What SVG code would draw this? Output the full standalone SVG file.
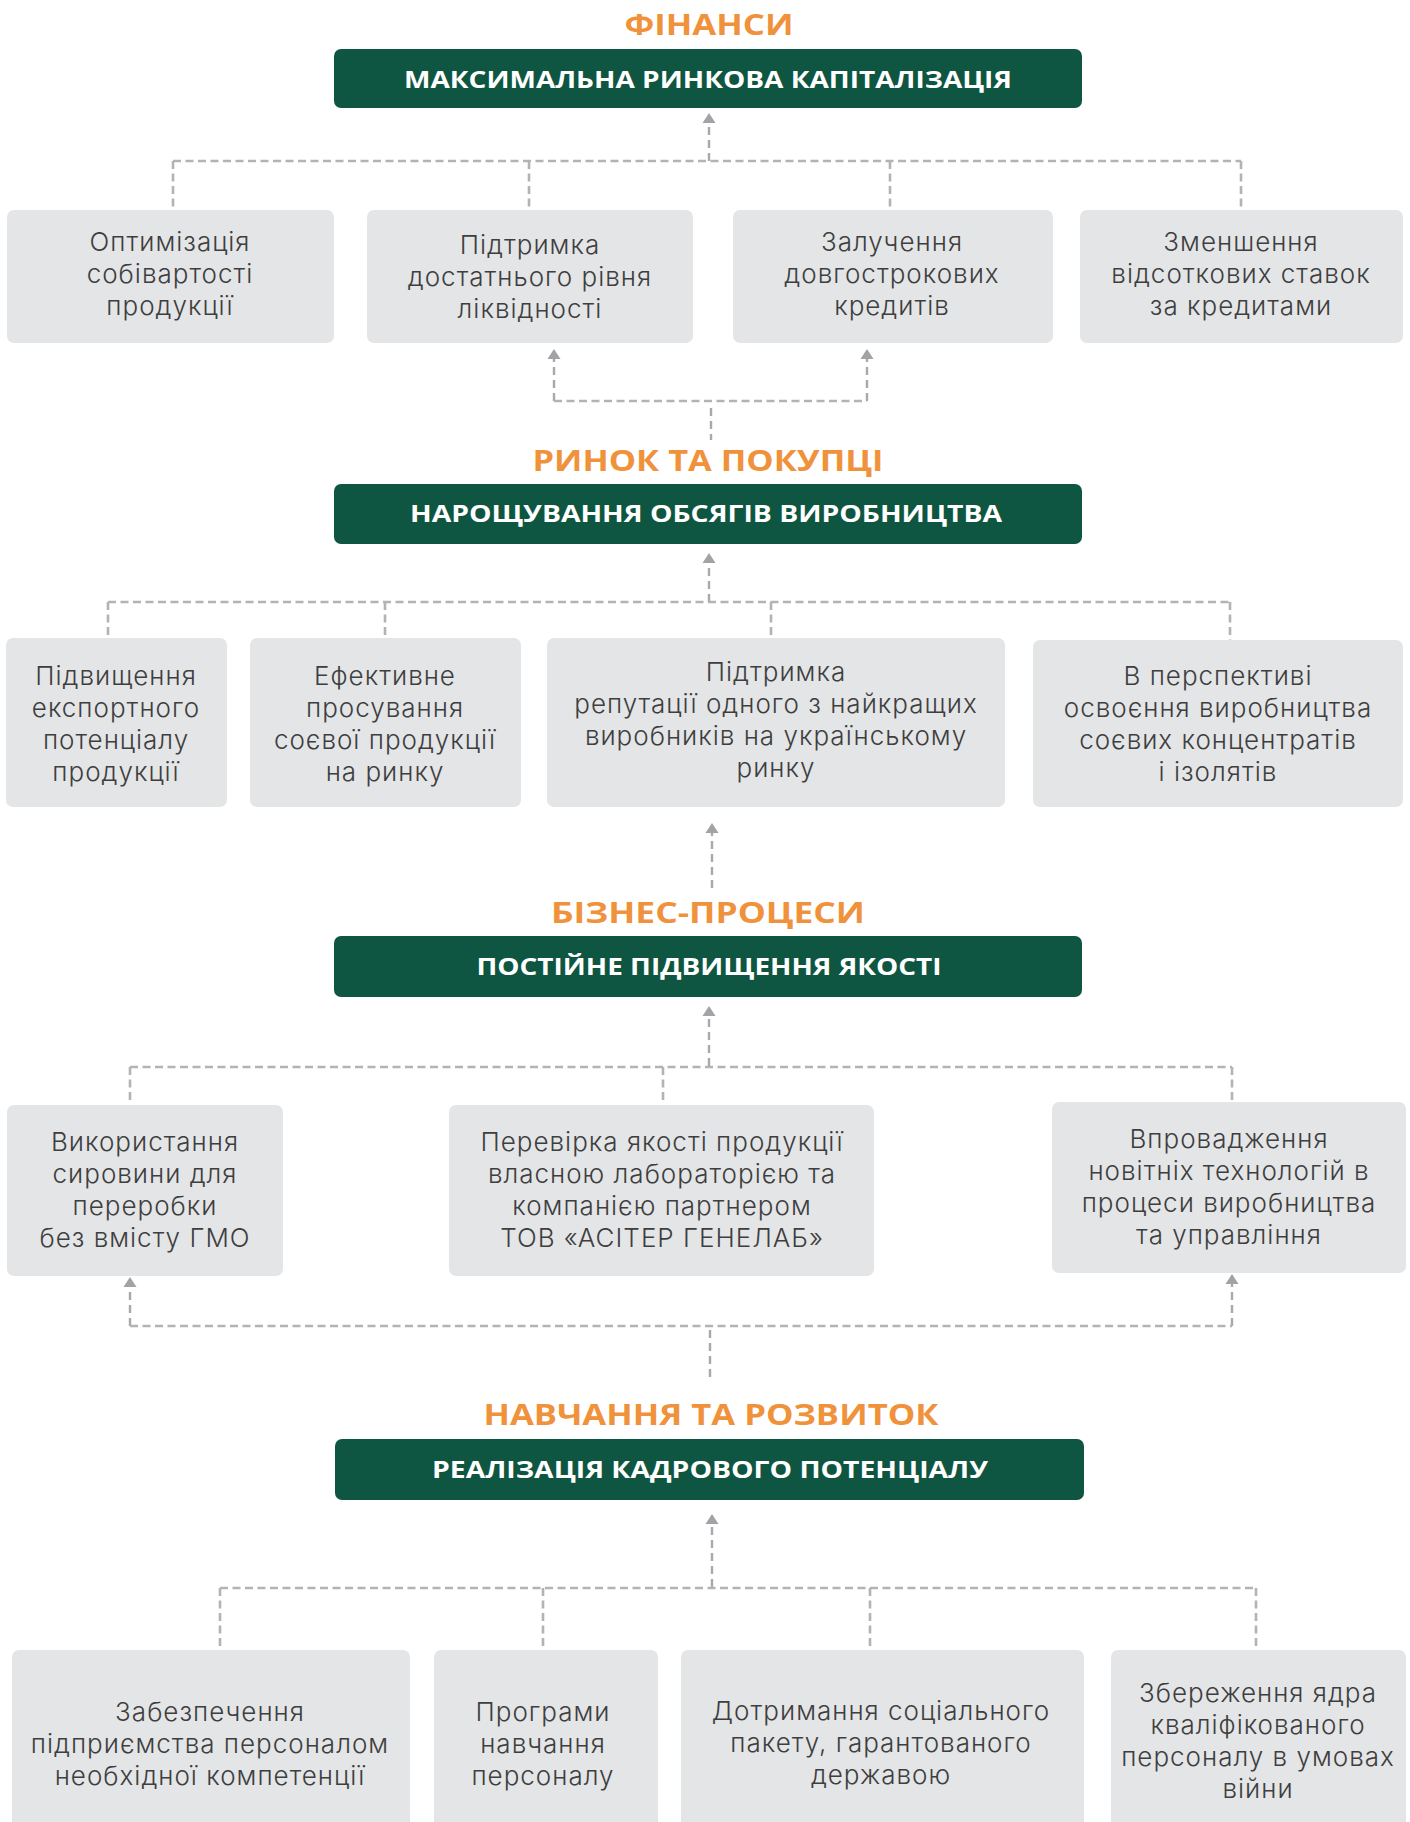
<svg xmlns="http://www.w3.org/2000/svg" width="1410" height="1822" viewBox="0 0 1410 1822">
<defs>
<style>
.box{fill:#e4e5e7}
.head{fill:#0e5641}
.t{font-family:Inter,"Open Sans","Liberation Sans",sans-serif;font-weight:300;font-size:26px;letter-spacing:1px;fill:#3e3e3e;text-anchor:middle}
.h{font-family:"Open Sans","Liberation Sans",sans-serif;font-weight:700;font-size:23px;fill:#ffffff;text-anchor:middle}
.o{font-family:"Open Sans","Liberation Sans",sans-serif;font-weight:700;font-size:29px;fill:#f0923b;text-anchor:middle}
.c{fill:none;stroke:#b3b3b6;stroke-width:2.6;stroke-dasharray:8 4.5}
.v{fill:none;stroke:#a9a9ad;stroke-width:2.4;stroke-dasharray:8 5}
.a{fill:#a3a3a7}
</style>
</defs>
<rect width="1410" height="1822" fill="#ffffff"/>

<g id="connectors">
<path class="v" d="M709,161 V122"/>
<path class="c" d="M173,161 H1241 M173,161 V210 M529,161 V210 M890,161 V210 M1241,161 V210"/>
<path class="v" d="M554,401 V358 M867,401 V358"/>
<path class="c" d="M554,401 H867"/>
<path class="v" d="M711,408 V440"/>
<path class="v" d="M709,602 V562"/>
<path class="c" d="M108,602 H1230 M108,602 V638 M385,602 V638 M771,602 V638 M1230,602 V640"/>
<path class="v" d="M712,888 V832"/>
<path class="v" d="M709,1066 V1015"/>
<path class="c" d="M130,1067 H1232 M130,1067 V1104 M663,1067 V1104 M1232,1067 V1102"/>
<path class="v" d="M130,1326 V1286 M1232,1326 V1283"/>
<path class="c" d="M130,1326 H1232"/>
<path class="v" d="M710,1330 V1382"/>
<path class="v" d="M712,1587 V1523"/>
<path class="c" d="M220,1588 H1256 M220,1588 V1649 M543,1588 V1649 M870,1588 V1649 M1256,1588 V1649"/>
<path class="a" d="M702.5,123 L709,113 L715.5,123 Z"/>
<path class="a" d="M547.5,359 L554,349 L560.5,359 Z"/>
<path class="a" d="M860.5,359 L867,349 L873.5,359 Z"/>
<path class="a" d="M702.5,563 L709,553 L715.5,563 Z"/>
<path class="a" d="M705.5,833 L712,823 L718.5,833 Z"/>
<path class="a" d="M702.5,1016 L709,1006 L715.5,1016 Z"/>
<path class="a" d="M123.5,1287 L130,1277 L136.5,1287 Z"/>
<path class="a" d="M1225.5,1284 L1232,1274 L1238.5,1284 Z"/>
<path class="a" d="M705.5,1524 L712,1514 L718.5,1524 Z"/>
</g>

<g id="title-finance"><text class="o" x="709" y="35" textLength="169" lengthAdjust="spacingAndGlyphs">ФІНАНСИ</text></g>
<g id="head-1"><rect class="head" x="334" y="49" width="748" height="59" rx="7"/><text class="h" x="708" y="88" textLength="608" lengthAdjust="spacingAndGlyphs">МАКСИМАЛЬНА РИНКОВА КАПІТАЛІЗАЦІЯ</text></g>

<g id="n1-1"><rect class="box" x="7" y="210" width="327" height="133" rx="7"/><text class="t"><tspan x="170" y="251">Оптимізація</tspan><tspan x="170" y="283">собівартості</tspan><tspan x="170" y="315">продукції</tspan></text></g>
<g id="n1-2"><rect class="box" x="367" y="210" width="326" height="133" rx="7"/><text class="t"><tspan x="530" y="254">Підтримка</tspan><tspan x="530" y="286">достатнього рівня</tspan><tspan x="530" y="318">ліквідності</tspan></text></g>
<g id="n1-3"><rect class="box" x="733" y="210" width="320" height="133" rx="7"/><text class="t"><tspan x="892" y="251">Залучення</tspan><tspan x="892" y="283">довгострокових</tspan><tspan x="892" y="315">кредитів</tspan></text></g>
<g id="n1-4"><rect class="box" x="1080" y="210" width="323" height="133" rx="7"/><text class="t"><tspan x="1241" y="251">Зменшення</tspan><tspan x="1241" y="283">відсоткових ставок</tspan><tspan x="1241" y="315">за кредитами</tspan></text></g>

<g id="title-market"><text class="o" x="708" y="471" textLength="351" lengthAdjust="spacingAndGlyphs">РИНОК ТА ПОКУПЦІ</text></g>
<g id="head-2"><rect class="head" x="334" y="484" width="748" height="60" rx="7"/><text class="h" x="706" y="522" textLength="592" lengthAdjust="spacingAndGlyphs">НАРОЩУВАННЯ ОБСЯГІВ ВИРОБНИЦТВА</text></g>

<g id="n2-1"><rect class="box" x="6" y="638" width="221" height="169" rx="7"/><text class="t"><tspan x="116" y="685">Підвищення</tspan><tspan x="116" y="717">експортного</tspan><tspan x="116" y="749">потенціалу</tspan><tspan x="116" y="781">продукції</tspan></text></g>
<g id="n2-2"><rect class="box" x="250" y="638" width="271" height="169" rx="7"/><text class="t"><tspan x="385" y="685">Ефективне</tspan><tspan x="385" y="717">просування</tspan><tspan x="385" y="749">соєвої продукції</tspan><tspan x="385" y="781">на ринку</tspan></text></g>
<g id="n2-3"><rect class="box" x="547" y="638" width="458" height="169" rx="7"/><text class="t"><tspan x="776" y="681">Підтримка</tspan><tspan x="776" y="713">репутації одного з найкращих</tspan><tspan x="776" y="745">виробників на українському</tspan><tspan x="776" y="777">ринку</tspan></text></g>
<g id="n2-4"><rect class="box" x="1033" y="640" width="370" height="167" rx="7"/><text class="t"><tspan x="1218" y="685">В перспективі</tspan><tspan x="1218" y="717">освоєння виробництва</tspan><tspan x="1218" y="749">соєвих концентратів</tspan><tspan x="1218" y="781">і ізолятів</tspan></text></g>

<g id="title-business"><text class="o" x="708" y="923" textLength="314" lengthAdjust="spacingAndGlyphs">БІЗНЕС-ПРОЦЕСИ</text></g>
<g id="head-3"><rect class="head" x="334" y="936" width="748" height="61" rx="7"/><text class="h" x="709" y="975" textLength="465" lengthAdjust="spacingAndGlyphs">ПОСТІЙНЕ ПІДВИЩЕННЯ ЯКОСТІ</text></g>

<g id="n3-1"><rect class="box" x="7" y="1105" width="276" height="171" rx="7"/><text class="t"><tspan x="145" y="1151">Використання</tspan><tspan x="145" y="1183">сировини для</tspan><tspan x="145" y="1215">переробки</tspan><tspan x="145" y="1247">без вмісту ГМО</tspan></text></g>
<g id="n3-2"><rect class="box" x="449" y="1105" width="425" height="171" rx="7"/><text class="t"><tspan x="662" y="1151">Перевірка якості продукції</tspan><tspan x="662" y="1183">власною лабораторією та</tspan><tspan x="662" y="1215">компанією партнером</tspan><tspan x="662" y="1247">ТОВ «АСІТЕР ГЕНЕЛАБ»</tspan></text></g>
<g id="n3-3"><rect class="box" x="1052" y="1102" width="354" height="171" rx="7"/><text class="t"><tspan x="1229" y="1148">Впровадження</tspan><tspan x="1229" y="1180">новітніх технологій в</tspan><tspan x="1229" y="1212">процеси виробництва</tspan><tspan x="1229" y="1244">та управління</tspan></text></g>

<g id="title-learning"><text class="o" x="711" y="1425" textLength="455" lengthAdjust="spacingAndGlyphs">НАВЧАННЯ ТА РОЗВИТОК</text></g>
<g id="head-4"><rect class="head" x="335" y="1439" width="749" height="61" rx="7"/><text class="h" x="710" y="1478" textLength="556" lengthAdjust="spacingAndGlyphs">РЕАЛІЗАЦІЯ КАДРОВОГО ПОТЕНЦІАЛУ</text></g>

<g id="n4-1"><rect class="box" x="12" y="1650" width="398" height="190" rx="7"/><text class="t"><tspan x="210" y="1721">Забезпечення</tspan><tspan x="210" y="1753">підприємства персоналом</tspan><tspan x="210" y="1785">необхідної компетенції</tspan></text></g>
<g id="n4-2"><rect class="box" x="434" y="1650" width="224" height="190" rx="7"/><text class="t"><tspan x="543" y="1721">Програми</tspan><tspan x="543" y="1753">навчання</tspan><tspan x="543" y="1785">персоналу</tspan></text></g>
<g id="n4-3"><rect class="box" x="681" y="1650" width="403" height="190" rx="7"/><text class="t"><tspan x="881" y="1720">Дотримання соціального</tspan><tspan x="881" y="1752">пакету, гарантованого</tspan><tspan x="881" y="1784">державою</tspan></text></g>
<g id="n4-4"><rect class="box" x="1111" y="1650" width="295" height="190" rx="7"/><text class="t"><tspan x="1258" y="1702">Збереження ядра</tspan><tspan x="1258" y="1734">кваліфікованого</tspan><tspan x="1258" y="1766">персоналу в умовах</tspan><tspan x="1258" y="1798">війни</tspan></text></g>
</svg>
